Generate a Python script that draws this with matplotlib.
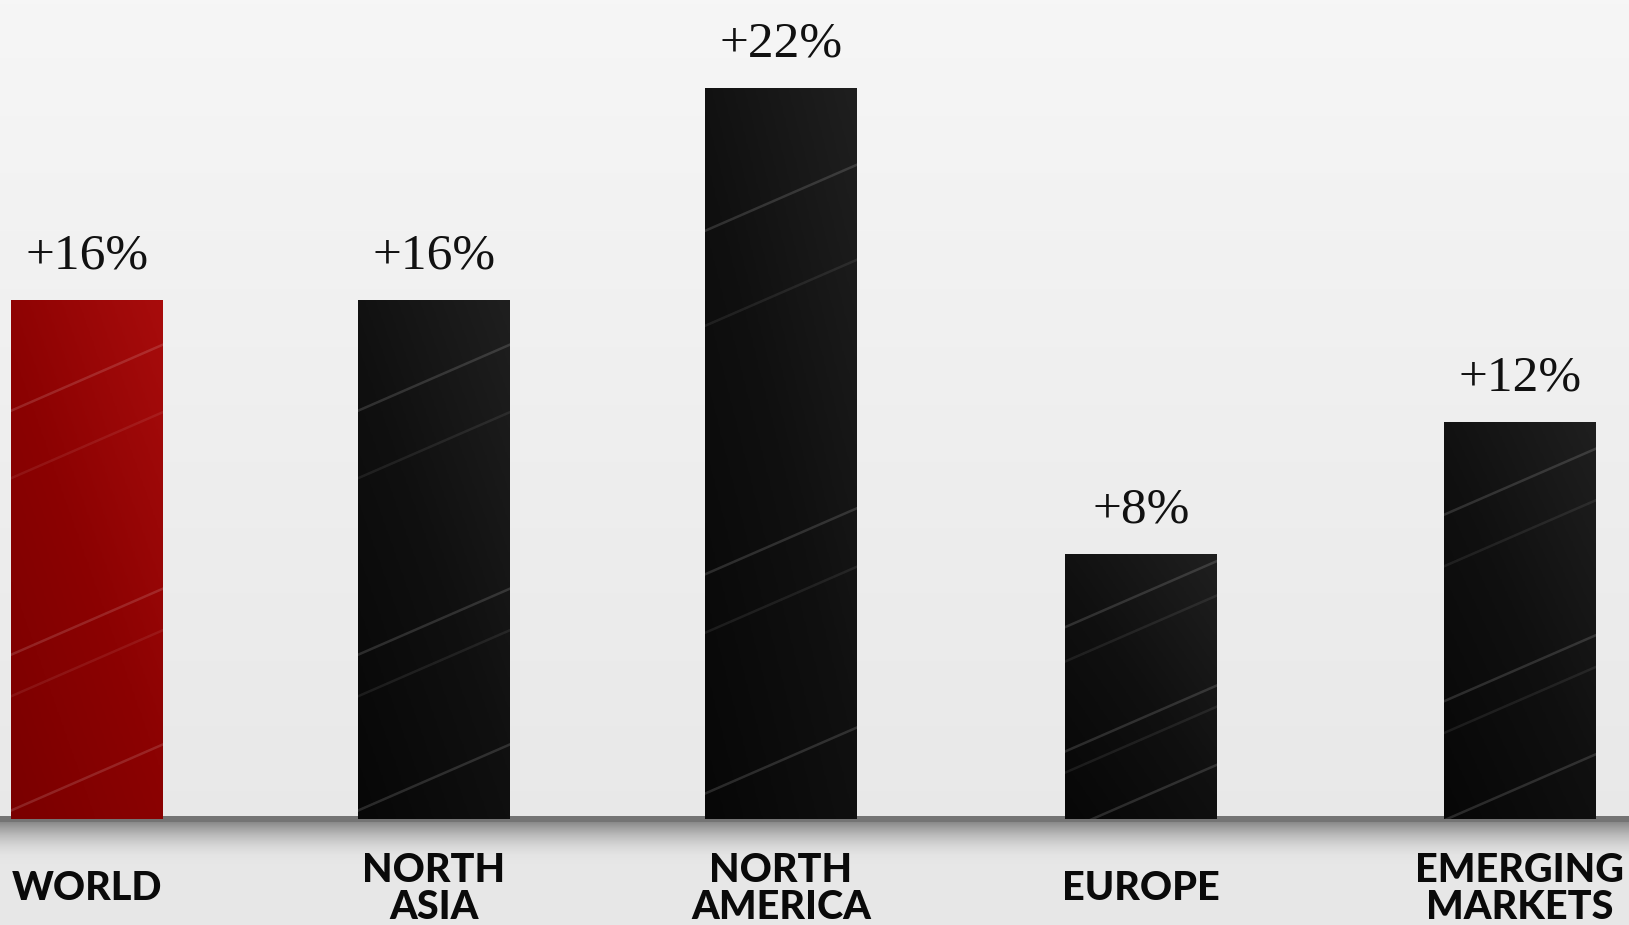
import numpy as np
import matplotlib.pyplot as plt
from matplotlib.colors import LinearSegmentedColormap

# data
regions = ['WORLD', 'NORTH\nASIA', 'NORTH\nAMERICA', 'EUROPE', 'EMERGING\nMARKETS']
growth = [15.7, 15.7, 22.1, 8, 12]   # bar heights as drawn
labels = ['+16%', '+16%', '+22%', '+8%', '+12%']

# layout (pixel-like units along x)
xpos = [87, 434, 781, 1141, 1520]
bar_w = 152
W, H = 1629, 925
base_px = 816
px_per_unit = 33.07

fig = plt.figure(figsize=(W / 100, H / 100), dpi=100)
ax = fig.add_axes([0, 0, 1, 1])
ymax = base_px / px_per_unit
ymin = -(H - base_px) / px_per_unit
ax.set_xlim(0, W)
ax.set_ylim(ymin, ymax)
ax.axis('off')

# background gradient
bg = LinearSegmentedColormap.from_list('bg', ['#e7e7e7', '#eeeeee', '#f6f6f6'])
ax.imshow(np.linspace(0, 1, 256).reshape(-1, 1)[::-1], cmap=bg, aspect='auto',
          extent=[0, W, ymin, ymax], origin='upper', zorder=0)

# floor line + shadow below it
line_h = 6 / px_per_unit
ax.axhspan(-line_h, 0, color='#747474', zorder=1, lw=0)
shadow = LinearSegmentedColormap.from_list('sh', [(0.5, 0.5, 0.5, 0.9), (0.9, 0.9, 0.9, 0.0)])
ax.imshow(np.linspace(0, 1, 64).reshape(-1, 1), cmap=shadow, aspect='auto',
          extent=[0, W, -line_h - 42 / px_per_unit, -line_h], origin='upper', zorder=1)

red_cm = LinearSegmentedColormap.from_list('r', ['#7a0000', '#8c0202', '#a80c0c'])
blk_cm = LinearSegmentedColormap.from_list('k', ['#070707', '#101010', '#1f1f1f'])

bars = ax.bar(xpos, growth, width=bar_w, bottom=-3 / px_per_unit,
              color=['#8b0000'] + ['#111111'] * 4, zorder=2, lw=0)

streaks = [0.08, 0.3, 0.38, 0.72, 0.85]
yy, xx = np.mgrid[0:1:200j, 0:1:60j]
for i, b in enumerate(bars):
    x0, w, h = b.get_x(), b.get_width(), b.get_height()
    grad = 0.55 * (1 - yy) + 0.45 * xx
    im = ax.imshow(grad, cmap=red_cm if i == 0 else blk_cm, aspect='auto',
                   extent=[x0, x0 + w, b.get_y(), b.get_y() + h], origin='upper', zorder=3)
    im.set_clip_path(b)
    # faint diagonal sheen streaks
    for k, frac in enumerate(streaks):
        ys = b.get_y() + frac * h
        ln, = ax.plot([x0, x0 + w], [ys - 1.0, ys + 1.0], color='white',
                      alpha=0.08 if k % 2 else 0.14, lw=1.8, zorder=4)
        ln.set_clip_path(b)
    ax.annotate(labels[i], (xpos[i], growth[i]), xytext=(0, 20.5), textcoords='offset points',
                ha='center', va='baseline', fontsize=37, family='Liberation Serif',
                color='#111111', zorder=5)
    ax.text(xpos[i], ymin + 36 / px_per_unit, regions[i], ha='center', va='center',
            fontsize=28.5, family='Lato', fontweight='black', linespacing=1.03,
            color='#0a0a0a', zorder=5)

fig.savefig('out.png', dpi=100)
